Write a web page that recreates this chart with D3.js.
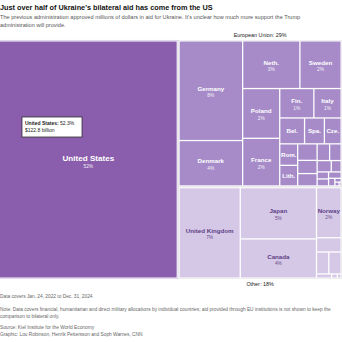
<!DOCTYPE html>
<html>
<head>
<meta charset="utf-8">
<script src="https://cdn.jsdelivr.net/npm/d3@7"></script>
<style>
body { margin: 0; background: #fff; }
svg { display: block; font-family: "Liberation Sans", Arial, sans-serif; }
</style>
</head>
<body>
<div id="canvas"></div>
<script>
const canvas = d3.select("#canvas");

// data (share of bilateral aid, %)
const usName = "United States";
const usValue = 52.3;
const usBillions = 122.8;

const euNames = ["Germany", "Denmark", "Netherlands", "Sweden", "Poland", "France", "Finland", "Italy",
    "Belgium", "Spain", "Czechia", "Romania", "Lithuania", "Estonia", "Latvia", "Portugal", "Austria",
    "Slovakia", "Ireland", "Croatia", "Greece", "Luxembourg", "Bulgaria", "Slovenia", "Hungary", "Cyprus", "Malta"];
const euLabels = ["Germany", "Denmark", "Neth.", "Sweden", "Poland", "France", "Fin.", "Italy",
    "Bel.", "Spa.", "Cze.", "Rom.", "Lith.", "", "", "", "", "", "", "", "", "", "", "", "", "", ""];
const euValues = [7.9, 3.6, 3.4, 2.45, 2.3, 2.2, 1.25, 1.0,
    0.8, 0.64, 0.54, 0.48, 0.46, 0.4, 0.32, 0.3, 0.26,
    0.24, 0.2, 0.14, 0.1, 0.1, 0.1, 0.06, 0.03, 0.02, 0.01];

const otherNames = ["United Kingdom", "Japan", "Canada", "Norway", "Australia", "Switzerland",
    "South Korea", "Turkey", "New Zealand", "Iceland"];
const otherLabels = ["United Kingdom", "Japan", "Canada", "Norway", "", "", "", "", "", ""];
const otherValues = [6.95, 4.9, 3.75, 1.55, 0.44, 0.34, 0.34, 0.08, 0.03, 0.02];

const titleText = "Just over half of Ukraine's bilateral aid has come from the US";
const subtitleLines = [
    "The previous administration approved millions of dollars in aid for Ukraine. It's unclear how much more support the Trump",
    "administration will provide."
];
const footLines = [
    { t: "Data covers Jan. 24, 2022 to Dec. 31, 2024", y: 298 },
    { t: "Note: Data covers financial, humanitarian and direct military allocations by individual countries; aid provided through EU institutions is not shown to keep the", y: 311 },
    { t: "comparison to bilateral only.", y: 318 },
    { t: "Source: Kiel Institute for the World Economy", y: 329 },
    { t: "Graphic: Lou Robinson, Henrik Pettersson and Soph Warnes, CNN", y: 336 }
];

const colors = { us: "#8a5eac", eu: "#a68bc8", other: "#d5c8e6" };
const textCol = { us: "#fff", eu: "#fff", other: "#5e3f85" };

const width = 342;
const height = 342;

const svg = canvas.append("svg").attr("width", width).attr("height", height);

// header
svg.append("text").attr("x", 0).attr("y", 10)
    .attr("font-size", 7.3).attr("font-weight", "bold").attr("fill", "#111")
    .text(titleText);
subtitleLines.forEach((l, i) => {
    svg.append("text").attr("x", 0).attr("y", 18.5 + i * 8)
        .attr("font-size", 5.6).attr("fill", "#555").text(l);
});

// hierarchy
const rows = (names, labels, values) => names.map((n, i) => ({ name: n, label: labels[i], value: values[i] }));
const tree = {
    name: "root",
    children: [
        { name: usName, key: "us", children: [{ name: usName, label: usName, value: usValue }] },
        { name: "European Union", key: "eu", children: rows(euNames, euLabels, euValues) },
        { name: "Other", key: "other", children: rows(otherNames, otherLabels, otherValues) }
    ]
};

const root = d3.hierarchy(tree)
    .sum(d => d.value || 0)
    .sort((a, b) => b.value - a.value);

d3.treemap()
    .tile(d3.treemapSquarify.ratio(1))
    .size([343.5, 239])
    .paddingOuter(d => d.depth === 0 ? 0 : 1.5)
    .paddingInner(d => d.depth === 0 ? 0 : 1.3)
    (root);

const g = svg.append("g").attr("transform", "translate(-1.5,40)");
const total = root.value;

// group outlines
const groups = root.children;
g.selectAll("rect.grp").data(groups).enter().append("rect")
    .attr("class", "grp")
    .attr("x", d => d.x0 + 0.25).attr("y", d => d.y0 + 0.25)
    .attr("width", d => d.x1 - d.x0 - 0.5).attr("height", d => d.y1 - d.y0 - 0.5)
    .attr("fill", "none")
    .attr("stroke", d => d.data.key === "us" ? "#cbb9df" : "#e2e2e2")
    .attr("stroke-width", 0.6);

const leaves = root.leaves();
const cells = g.selectAll("g.cell").data(leaves).enter().append("g")
    .attr("class", "cell")
    .attr("transform", d => `translate(${d.x0},${d.y0})`);

cells.append("rect")
    .attr("width", d => d.x1 - d.x0)
    .attr("height", d => d.y1 - d.y0)
    .attr("fill", d => colors[d.parent.data.key]);

const labelled = cells.filter(d => d.data.label);
labelled.append("text")
    .attr("x", d => (d.x1 - d.x0) / 2)
    .attr("y", d => d.parent.data.key === "us" ? (d.y1 - d.y0) / 2 + 1 : (d.y1 - d.y0) / 2 + (d.y1 - d.y0 > 27 ? 0 : 2))
    .attr("text-anchor", "middle")
    .attr("font-weight", "bold")
    .attr("font-size", d => d.parent.data.key === "us" ? 8.1 : 6.2)
    .attr("fill", d => textCol[d.parent.data.key])
    .text(d => d.data.label);

labelled.filter(d => d.y1 - d.y0 > 27).append("text")
    .attr("x", d => (d.x1 - d.x0) / 2)
    .attr("y", d => d.parent.data.key === "us" ? (d.y1 - d.y0) / 2 + 8 : (d.y1 - d.y0) / 2 + 6.5)
    .attr("text-anchor", "middle")
    .attr("font-size", 4.8)
    .attr("fill", d => textCol[d.parent.data.key])
    .attr("opacity", 0.9)
    .text(d => Math.round(d.value / total * 100) + "%");

// group labels
const eu = groups.find(d => d.data.key === "eu");
const oth = groups.find(d => d.data.key === "other");
g.append("text")
    .attr("x", (eu.x0 + eu.x1) / 2).attr("y", eu.y0 - 3)
    .attr("text-anchor", "middle").attr("font-size", 5.4).attr("fill", "#222")
    .text(`European Union: ${Math.round(eu.value / total * 100)}%`);
g.append("text")
    .attr("x", (oth.x0 + oth.x1) / 2).attr("y", oth.y1 + 7)
    .attr("text-anchor", "middle").attr("font-size", 5.4).attr("fill", "#222")
    .text(`Other: ${Math.round(oth.value / total * 100)}%`);

// tooltip on US
const tip = svg.append("g").attr("transform", "translate(22,117)");
tip.append("rect").attr("width", 60).attr("height", 20)
    .attr("fill", "#fff").attr("stroke", "#333").attr("stroke-width", 0.8);
const t1 = tip.append("text").attr("x", 3).attr("y", 7.5).attr("font-size", 5).attr("fill", "#222");
t1.append("tspan").attr("font-weight", "bold").text(usName + ":");
t1.append("tspan").text(" " + usValue + "%");
tip.append("text").attr("x", 3).attr("y", 15).attr("font-size", 5).attr("fill", "#222")
    .text("$" + usBillions + " billion");

// footer
footLines.forEach(f => {
    svg.append("text").attr("x", 0).attr("y", f.y)
        .attr("font-size", 4.8).attr("fill", "#666").text(f.t);
});
</script>
</body>
</html>
